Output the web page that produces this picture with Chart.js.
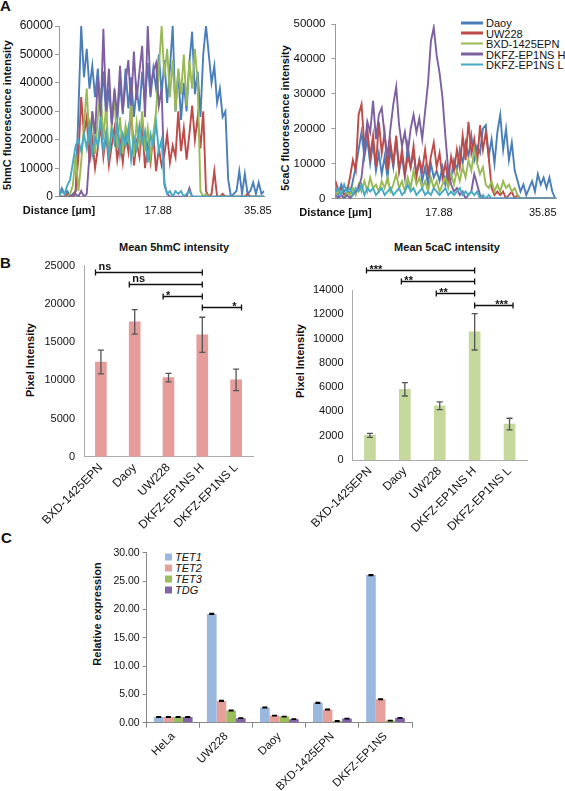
<!DOCTYPE html>
<html>
<head>
<meta charset="utf-8">
<script src="https://cdn.jsdelivr.net/npm/chart.js@4.4.0/dist/chart.umd.min.js"></script>
<style>
  html, body { margin: 0; padding: 0; background: #fff; }
  #fig { position: relative; width: 565px; height: 791px; overflow: hidden; font-family: "Liberation Sans", Arial, Helvetica, sans-serif; color: #111; }
  #fig canvas { position: absolute; }
  .lbl { position: absolute; white-space: nowrap; }
  .panel { font-weight: bold; font-size: 15px; line-height: 15px; }
  .ytitle { font-weight: bold; font-size: 11px; transform: translate(-50%, -50%) rotate(-90deg); }
  .ctitle { font-weight: bold; font-size: 11px; transform: translate(-50%, -50%); }
  .leg { font-size: 11px; line-height: 11px; transform: translateY(-50%); }
  .leg i { display: inline-block; vertical-align: middle; margin-right: 3px; position: relative; top: -1px; }
</style>
</head>
<body>
<div id="fig">
  <div class="lbl panel" style="left:0px;top:-2px">A</div>
  <div class="lbl panel" style="left:0px;top:255px">B</div>
  <div class="lbl panel" style="left:1px;top:530px">C</div>

  <div class="lbl ytitle" style="left:7px;top:115px">5hmC fluorescence intensity</div>
  <div class="lbl ytitle" style="left:285px;top:118px">5caC fluorescence intensity</div>
  <div class="lbl ytitle" style="left:30px;top:360px">Pixel Intensity</div>
  <div class="lbl ytitle" style="left:300px;top:361px">Pixel Intensity</div>
  <div class="lbl ytitle" style="left:97px;top:614px">Relative expression</div>

  <div class="lbl ctitle" style="left:174px;top:247px">Mean 5hmC intensity</div>
  <div class="lbl ctitle" style="left:447px;top:247px">Mean 5caC intensity</div>

  <div id="legA"></div>
  <div id="legC"></div>

  <canvas id="hmcLine" width="280" height="225" style="left:0;top:0"></canvas>
  <canvas id="cacLine" width="285" height="225" style="left:280px;top:0"></canvas>
  <canvas id="hmcBar" width="280" height="300" style="left:0;top:236px"></canvas>
  <canvas id="cacBar" width="285" height="300" style="left:280px;top:236px"></canvas>
  <canvas id="qpcr" width="565" height="251" style="left:0;top:540px"></canvas>
</div>
<script>
// ---- panel A : intensity profiles (values in thousands) ----
const lineNames = ['Daoy', 'UW228', 'BXD-1425EPN', 'DKFZ-EP1NS H', 'DKFZ-EP1NS L'];
const lineColors = ['#4A7EBB', '#BE4B48', '#98B954', '#7D60A0', '#46AAC5'];
const distTicks = [0, 17.88, 35.85];
const dist = [0,0.5,1,1.5,2,2.5,3,3.5,4,4.5,5,5.5,6,6.5,7,7.5,8,8.5,9,9.5,10,10.5,11,11.5,12,12.5,13,13.5,14,14.5,15,15.5,16,16.5,17,17.5,18,18.5,19,19.5,20,20.5,21,21.5,22,22.5,23,23.5,24,24.5,25,25.5,26,26.5,27,27.5,28,28.5,29,29.5,30,30.5,31,31.5,32,32.5,33,33.5,34,34.5,35,35.5,36,36.5,37,37.5,38];

const hmcDaoy = [0,3,1,2,0,1,2,30,60,42, 52,38,46,35,45,30,44,28,38,26, 36,27,40,29,45,31,42,28,38,30,
  44,33,47,35,45,38,50,36,48,33, 45,60,30,44,27,40,30,47,58,36, 44,28,50,60,50,40,46,33,38,28,
  30,6,0,1,2,9,1,8,1,2, 5,1,5,1,2];
const hmcUW228 = [0,0,0,1,0,0,2,14,35,22, 28,12,20,10,17,25,14,22,11,18, 24,13,20,12,22,16,33,11,19,14,
  26,10,18,12,22,9,17,11,15,22, 12,18,14,30,16,24,13,22,32,20, 28,17,30,2,0,1,9,0,0,1,
  0,0,0,0,0,0,0,0,1,0, 0,0,0,0,0];
const hmcBXD = [0,0,0,0,1,4,15,2,12,25, 38,18,30,15,28,38,20,32,14,25, 35,17,28,15,25,20,33,14,26,18,
  30,16,24,14,22,30,45,60,42,52, 35,48,30,45,36,50,32,48,38,52, 40,2,0,1,0,0,0,0,0,0,
  0,0,0,0,0,0,0,0,0,0, 0,0,0,0,0];
const hmcEpH = [0,0,0,0,0,0,1,0,2,0, 1,15,30,22,42,28,59,30,45,25, 38,28,46,30,40,48,32,51,34,44,
  53,28,60,38,44,47,32,38,5,1, 0,0,0,0,0,0,0,3,0,0, 0,0,0,0,0,0,0,0,0,0,
  0,0,0,0,0,0,0,0,0,0, 0,0,0,0,0];
const hmcEpL = [0,2,1,4,6,12,18,20,16,22, 17,25,15,21,18,28,16,22,14,24, 19,26,15,22,18,24,13,21,17,25,
  19,23,12,22,18,26,16,20,4,1, 2,0,2,1,2,0,1,2,0,0, 0,0,0,0,0,0,0,0,0,0,
  0,0,0,0,0,0,0,0,0,0, 0,0,0,0,0];

const cacDaoy = [3,1,4,2,3,1,5,9,14,19, 12,17,10,16,8,13,7,12,6,14, 9,17,8,12,6,15,9,13,7,11,
  5,9,4,10,6,8,5,9,4,8, 6,11,8,14,10,16,12,18,11,15, 13,20,21,12,17,10,19,24,14,20,
  11,16,8,5,2,4,1,3,5,2, 7,4,6,3,6,2,0];
const cacUW228 = [5,2,3,1,2,6,11,8,24,27, 15,20,12,18,9,22,13,19,8,16, 10,18,8,14,7,12,9,15,6,11,
  8,14,7,12,16,9,13,6,10,5, 12,8,14,9,18,11,22,13,17,10, 21,14,19,12,3,1,2,1,2,0,
  1,2,0,1,0,0,0,0,0,0, 0,0,0,0,0,0,0];
const cacBXD = [1,2,1,0,2,1,3,1,4,2, 5,2,6,3,4,2,5,3,6,2, 4,7,3,5,2,6,3,8,4,6,
  3,5,2,6,3,5,2,4,6,3, 7,4,8,5,9,6,11,8,14,10, 7,9,4,3,5,2,4,2,5,3,
  4,2,3,1,0,0,0,0,0,0, 0,0,0,0,0,0,0];
const cacEpH = [1,0,1,0,1,0,1,2,3,6, 14,22,19,28,17,24,26,18,12,20, 27,32,21,15,19,13,20,24,19,23,
  17,25,33,45,49,41,36,29,18,8, 4,2,3,1,2,0,1,2,7,4, 1,0,0,0,0,0,0,0,0,0,
  0,0,0,0,0,0,0,0,0,0, 0,0,0,0,0,0,0];
const cacEpL = [2,3,1,4,2,3,1,3,2,4, 1,3,2,3,1,2,3,1,2,3, 1,2,3,1,2,4,2,3,1,2,
  3,1,2,1,3,2,1,2,3,1, 2,1,2,3,1,2,1,2,1,2, 0,1,0,1,0,0,0,0,0,0,
  0,0,0,0,0,0,0,0,0,0, 0,0,0,0,0,0,0];

// ---- panel B : mean intensities ----
const cellLines = ['BXD-1425EPN', 'Daoy', 'UW228', 'DKFZ-EP1NS H', 'DKFZ-EP1NS L'];
const hmcMean = [12400, 17650, 10350, 15950, 10050];
const hmcErr = [1550, 1600, 550, 2300, 1400];
const cacMean = [2030, 5820, 4470, 10560, 2960];
const cacErr = [170, 550, 320, 1500, 480];
// significance: compared bar, reference bar (DKFZ-EP1NS H), label, bracket height
const sigRef = 3;
const hmcSigFrom = [0, 1, 2, 4];
const hmcSigText = ['ns', 'ns', '*', '*'];
const hmcSigY = [24200, 22560, 21070, 19550];
const cacSigFrom = [0, 1, 2, 4];
const cacSigText = ['***', '**', '**', '***'];
const cacSigY = [15640, 14730, 13720, 12760];

// ---- panel C : qPCR ----
const qpcrLines = ['HeLa', 'UW228', 'Daoy', 'BXD-1425EPN', 'DKFZ-EP1NS'];
const geneNames = ['TET1', 'TET2', 'TET3', 'TDG'];
const geneColors = ['#9AB8DE', '#E6A09C', '#9BBE5A', '#8262A8'];
const tet1 = [1.00, 19.20, 2.68, 3.50, 26.05];
const tet2 = [1.00, 3.85, 1.25, 2.32, 4.13];
const tet3 = [1.00, 2.15, 1.08, 0.30, 0.38];
const tdg = [1.00, 0.80, 0.62, 0.72, 0.85];
const tet1Err = [0.06, 0.08, 0.06, 0.07, 0.08];
const tet2Err = [0.06, 0.07, 0.05, 0.06, 0.07];
const tet3Err = [0.06, 0.06, 0.05, 0.04, 0.04];
const tdgErr = [0.06, 0.05, 0.05, 0.05, 0.05];

Chart.defaults.font.family = '"Liberation Sans", Arial, Helvetica, sans-serif';
Chart.defaults.color = '#111';
Chart.defaults.animation = false;
Chart.defaults.plugins.legend.display = false;
Chart.defaults.plugins.tooltip.enabled = false;

// legends as html
const legA = document.getElementById('legA');
[23.3, 33.5, 44, 54.5, 65].forEach((y, k) => {
  const d = document.createElement('div');
  d.className = 'lbl leg';
  d.style.left = '461px';
  d.style.top = y + 'px';
  d.innerHTML = '<i style="width:22px;height:2.5px;background:' + lineColors[k] + '"></i>';
  d.appendChild(document.createTextNode(lineNames[k]));
  legA.appendChild(d);
});
const legC = document.getElementById('legC');
[557.3, 568.3, 579.3, 590].forEach((y, k) => {
  const d = document.createElement('div');
  d.className = 'lbl leg';
  d.style.left = '165px';
  d.style.top = y + 'px';
  d.style.fontStyle = 'italic';
  d.innerHTML = '<i style="width:7px;height:7px;background:' + geneColors[k] + '"></i>';
  d.appendChild(document.createTextNode(geneNames[k]));
  legC.appendChild(d);
});

function errorBars(errs, color, cap) {
  return {
    id: 'errorBars',
    afterDatasetsDraw(chart) {
      const ctx = chart.ctx;
      const y = chart.scales.y;
      ctx.save();
      ctx.strokeStyle = color;
      ctx.lineWidth = 1.3;
      chart.data.datasets.forEach((ds, d) => {
        chart.getDatasetMeta(d).data.forEach((bar, i) => {
          const top = y.getPixelForValue(ds.data[i] + errs[d][i]);
          const bot = y.getPixelForValue(ds.data[i] - errs[d][i]);
          ctx.beginPath();
          ctx.moveTo(bar.x, top); ctx.lineTo(bar.x, bot);
          ctx.moveTo(bar.x - cap, top); ctx.lineTo(bar.x + cap, top);
          ctx.moveTo(bar.x - cap, bot); ctx.lineTo(bar.x + cap, bot);
          ctx.stroke();
        });
      });
      ctx.restore();
    }
  };
}

function sigBrackets(from, texts, levels, edge) {
  return {
    id: 'sigBrackets',
    afterDraw(chart) {
      const {ctx, scales: {x, y}} = chart;
      ctx.save();
      ctx.strokeStyle = '#111';
      ctx.fillStyle = '#111';
      ctx.lineWidth = 1.3;
      ctx.font = 'bold 11px "Liberation Sans", Arial, sans-serif';
      from.forEach((f, k) => {
        const leftSide = f < sigRef;
        const x1 = x.getPixelForValue(leftSide ? f - edge : sigRef);
        const x2 = x.getPixelForValue(leftSide ? sigRef : f + edge);
        const py = Math.round(y.getPixelForValue(levels[k])) + 0.5;
        ctx.beginPath();
        ctx.moveTo(x1, py); ctx.lineTo(x2, py);
        ctx.moveTo(x1, py - 3); ctx.lineTo(x1, py + 3);
        ctx.moveTo(x2, py - 3); ctx.lineTo(x2, py + 3);
        ctx.stroke();
        ctx.textAlign = leftSide ? 'left' : 'right';
        const star = texts[k].indexOf('*') >= 0;
        ctx.fillText(texts[k], leftSide ? x1 + 3 : x2 - 5, star ? py + 2 : py - 3);
      });
      ctx.restore();
    }
  };
}

function profileChart(id, series, yMax, xMax, plot, yPad, yFont) {
  const cv = document.getElementById(id);
  return new Chart(cv, {
    type: 'line',
    data: {
      datasets: series.map((vals, k) => ({
        label: lineNames[k],
        data: vals.map((v, i) => ({x: dist[i], y: v * 1000})),
        borderColor: lineColors[k],
        borderWidth: 1.9,
        pointRadius: 0,
        order: 4 - k
      }))
    },
    options: {
      responsive: false,
      layout: {padding: {left: 0, top: plot.top, right: cv.width - plot.right, bottom: 0}},
      scales: {
        x: {
          type: 'linear', min: 0, max: xMax,
          afterBuildTicks: s => { s.ticks = distTicks.map(v => ({value: v})); },
          afterFit: s => { s.height = cv.height - plot.bottom; },
          grid: {display: false, drawTicks: false},
          border: {color: '#999'},
          ticks: {
            autoSkip: false, maxRotation: 0, padding: 8,
            font: c => (c.tick && c.tick.value === 0) ? {size: 11, weight: 'bold'} : {size: 11},
            callback: v => v === 0 ? 'Distance [µm]' : v.toFixed(2)
          }
        },
        y: {
          min: 0, max: yMax,
          afterFit: s => { s.width = plot.left; },
          grid: {drawOnChartArea: false, tickLength: 4, color: '#999'},
          border: {color: '#999'},
          ticks: {stepSize: 10000, padding: yPad, font: {size: yFont}, callback: v => String(v)}
        }
      }
    }
  });
}

profileChart('hmcLine', [hmcDaoy, hmcUW228, hmcBXD, hmcEpH, hmcEpL], 60000, 37,
  {left: 59, top: 26, right: 268, bottom: 196.7}, 2, 12);
profileChart('cacLine', [cacDaoy, cacUW228, cacBXD, cacEpH, cacEpL], 50000, 38.2,
  {left: 55.5, top: 24, right: 277, bottom: 198.5}, 6, 11.5);

function meanBarChart(id, means, errs, color, yMax, step, plot, sig) {
  const cv = document.getElementById(id);
  return new Chart(cv, {
    type: 'bar',
    data: {labels: cellLines, datasets: [{data: means, backgroundColor: color, barThickness: 11}]},
    options: {
      responsive: false,
      layout: {padding: {left: 0, top: plot.top, right: cv.width - plot.right, bottom: 0}},
      scales: {
        x: {
          afterFit: s => { s.height = cv.height - plot.bottom; },
          grid: {display: false, drawTicks: false},
          border: {color: '#aaa'},
          ticks: {autoSkip: false, minRotation: 45, maxRotation: 45, padding: 4, font: {size: 12}}
        },
        y: {
          min: 0, max: yMax,
          afterFit: s => { s.width = plot.left; },
          grid: {display: false, drawTicks: false},
          border: {color: '#aaa'},
          ticks: {stepSize: step, padding: 9, font: {size: 11}, callback: v => String(v)}
        }
      }
    },
    plugins: [errorBars([errs], '#555', 3), sig]
  });
}

meanBarChart('hmcBar', hmcMean, hmcErr, '#E59C9A', 25000, 5000,
  {left: 84, top: 29.7, right: 253, bottom: 220.7},
  sigBrackets(hmcSigFrom, hmcSigText, hmcSigY, 0.16));
meanBarChart('cacBar', cacMean, cacErr, '#C4D99B', 14000, 2000,
  {left: 72.5, top: 54, right: 247, bottom: 224},
  sigBrackets(cacSigFrom, cacSigText, cacSigY, 0.1));

// panel C
(function () {
  const cv = document.getElementById('qpcr');
  const plot = {left: 146.7, top: 12.7, right: 412, bottom: 182.7};
  const vals = [tet1, tet2, tet3, tdg];
  const errs = [tet1Err, tet2Err, tet3Err, tdgErr];
  new Chart(cv, {
    type: 'bar',
    data: {
      labels: qpcrLines,
      datasets: vals.map((v, k) => ({
        label: geneNames[k], data: v, backgroundColor: geneColors[k],
        categoryPercentage: 0.73, barPercentage: 1.0
      }))
    },
    options: {
      responsive: false,
      layout: {padding: {left: 0, top: plot.top, right: cv.width - plot.right, bottom: 0}},
      scales: {
        x: {
          afterFit: s => { s.height = cv.height - plot.bottom; },
          grid: {offset: true, drawOnChartArea: false, tickLength: 5, color: '#888'},
          border: {color: '#888'},
          ticks: {autoSkip: false, minRotation: 45, maxRotation: 45, padding: 2, font: {size: 11.5}}
        },
        y: {
          min: 0, max: 30,
          afterFit: s => { s.width = plot.left; },
          grid: {drawOnChartArea: false, tickLength: 4, color: '#888'},
          border: {color: '#888'},
          ticks: {stepSize: 5, padding: 3, font: {size: 10.5}, callback: v => v.toFixed(2)}
        }
      }
    },
    plugins: [errorBars(errs, '#000', 2.5)]
  });
})();
</script>
</body>
</html>
